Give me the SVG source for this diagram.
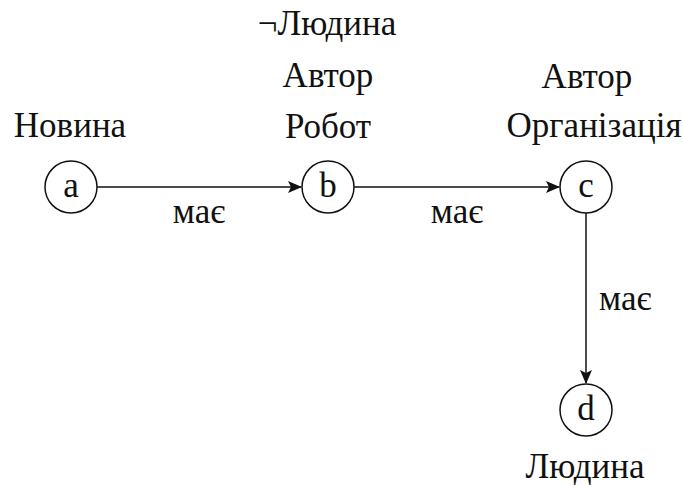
<svg xmlns="http://www.w3.org/2000/svg" width="683" height="485" viewBox="0 0 683 485">
<style>
text{font-family:"Liberation Serif","Times New Roman",serif;font-size:35px;fill:#111;}
.m{text-anchor:middle;}
circle{fill:#fff;stroke:#111;stroke-width:1.5;}
.e{stroke:#111;stroke-width:1.5;fill:none;}
</style>
<defs>
<marker id="ah" markerWidth="14" markerHeight="12" refX="13" refY="6" orient="auto" markerUnits="userSpaceOnUse">
<path d="M0,0 L14,6 L0,12 L3,6 Z" fill="#111"/>
</marker>
</defs>
<rect width="683" height="485" fill="#fff"/>
<g id="connectors">
<line class="e" x1="97" y1="187" x2="301" y2="187" marker-end="url(#ah)"/>
<line class="e" x1="354" y1="187" x2="559" y2="187" marker-end="url(#ah)"/>
<line class="e" x1="586" y1="213" x2="586" y2="383" marker-end="url(#ah)"/>
<text class="m" x="199" y="223">має</text>
<text class="m" x="457" y="223">має</text>
<text x="599" y="310">має</text>
</g>
<g id="node-a">
<circle cx="71" cy="187" r="26"/>
<text class="m" x="71" y="197">a</text>
<text class="m" x="70" y="137">Новина</text>
</g>
<g id="node-b">
<circle cx="328" cy="187" r="26"/>
<text class="m" x="328" y="197">b</text>
<text class="m" x="327" y="35">¬Людина</text>
<text class="m" x="328" y="87">Автор</text>
<text class="m" x="328" y="138">Робот</text>
</g>
<g id="node-c">
<circle cx="586" cy="187" r="26"/>
<text class="m" x="586" y="197">c</text>
<text class="m" x="587" y="88">Автор</text>
<text class="m" x="594" y="137">Організація</text>
</g>
<g id="node-d">
<circle cx="586" cy="410" r="26"/>
<text class="m" x="586" y="420">d</text>
<text class="m" x="585" y="478">Людина</text>
</g>
</svg>
